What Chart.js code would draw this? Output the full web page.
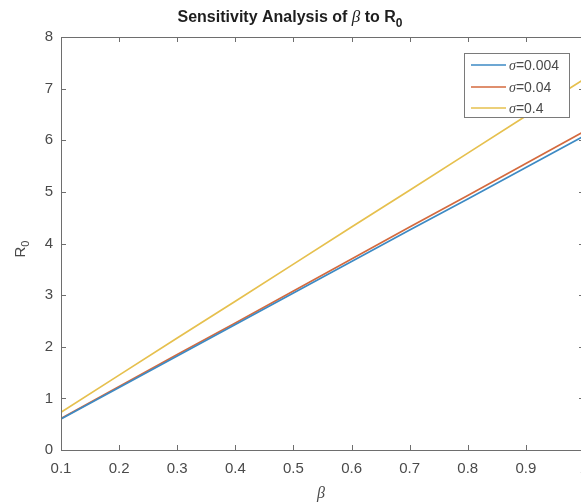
<!DOCTYPE html>
<html><head><meta charset="utf-8">
<script src="https://cdn.jsdelivr.net/npm/chart.js@4/dist/chart.umd.min.js"></script>
<style>
html,body{margin:0;padding:0;background:#fff;overflow:hidden;width:581px;height:503px}
#wrap{position:absolute;left:0;top:0;width:600px;height:503px}
</style>
</head><body><div id="wrap"><canvas id="c"></canvas></div>
<script>
// ---- data ----
const betaValues = [0.1, 0.2, 0.3, 0.4, 0.5, 0.6, 0.7, 0.8, 0.9, 1.0];
const sigmaLabels = ['0.004', '0.04', '0.4'];
const r0Sigma0004 = [0.60, 1.21, 1.82, 2.43, 3.04, 3.65, 4.26, 4.86, 5.47, 6.08];
const r0Sigma004  = [0.61, 1.23, 1.85, 2.46, 3.08, 3.70, 4.32, 4.93, 5.55, 6.17];
const r0Sigma04   = [0.73, 1.45, 2.17, 2.88, 3.60, 4.32, 5.03, 5.75, 6.47, 7.18];
const xTickValues = [0.1, 0.2, 0.3, 0.4, 0.5, 0.6, 0.7, 0.8, 0.9, 1.0];
const yTickValues = [0, 1, 2, 3, 4, 5, 6, 7, 8];
const chartTitle = ['Sensitivity Analysis of ', 'β', ' to R', '0'];
const xAxisLabel = 'β';
const yAxisLabel = ['R', '0'];

const colors = ['#3d8ac4', '#d46a3e', '#e6c04e'];
const SANS = "'Liberation Sans', Arial, sans-serif";
const SERIF = "'Liberation Serif', 'Times New Roman', serif";
const AXIS_COLOR = '#6e6e6e';
const TEXT_COLOR = '#4a4a4a';

const seriesValues = [r0Sigma0004, r0Sigma004, r0Sigma04];
const datasets = seriesValues.map((vals, i) => ({
  label: 'σ=' + sigmaLabels[i],
  data: betaValues.map((b, j) => ({x: b, y: vals[j]})),
  borderColor: colors[i],
  backgroundColor: colors[i],
  borderWidth: 1.7,
  pointRadius: 0,
  tension: 0,
  fill: false
}));

const decorPlugin = {
  id: 'decor',
  beforeDraw(chart) {
    const ctx = chart.ctx;
    ctx.save();
    ctx.fillStyle = '#fff';
    ctx.fillRect(0, 0, chart.width, chart.height);
    ctx.restore();
  },
  afterDatasetsDraw(chart) {
    const ctx = chart.ctx;
    const a = chart.chartArea;
    const xs = chart.scales.x, ys = chart.scales.y;
    ctx.save();
    // box
    ctx.strokeStyle = AXIS_COLOR;
    ctx.lineWidth = 1;
    ctx.strokeRect(Math.round(a.left) + 0.5, Math.round(a.top) + 0.5,
                   Math.round(a.right - a.left), Math.round(a.bottom - a.top));
    // inward ticks
    const tl = 5;
    ctx.beginPath();
    xTickValues.forEach(v => {
      const px = Math.round(xs.getPixelForValue(v)) + 0.5;
      ctx.moveTo(px, a.bottom); ctx.lineTo(px, a.bottom - tl);
      ctx.moveTo(px, a.top); ctx.lineTo(px, a.top + tl);
    });
    yTickValues.forEach(v => {
      const py = Math.round(ys.getPixelForValue(v)) + 0.5;
      ctx.moveTo(a.left, py); ctx.lineTo(a.left + tl, py);
      ctx.moveTo(a.right, py); ctx.lineTo(a.right - tl, py);
    });
    ctx.stroke();

    // legend
    const lx = 464, ly = 53, lw = 105, lh = 64;
    ctx.fillStyle = '#fff';
    ctx.fillRect(lx, ly, lw, lh);
    ctx.strokeStyle = '#7a7a7a';
    ctx.strokeRect(lx + 0.5, ly + 0.5, lw, lh);
    const rows = [65, 87, 108];
    chart.data.datasets.forEach((ds, i) => {
      const y = rows[i];
      ctx.strokeStyle = ds.borderColor;
      ctx.lineWidth = 1.7;
      ctx.beginPath();
      ctx.moveTo(471, y); ctx.lineTo(506, y);
      ctx.stroke();
      ctx.fillStyle = TEXT_COLOR;
      ctx.textBaseline = 'middle';
      ctx.textAlign = 'left';
      ctx.font = 'italic 14px ' + SERIF;
      ctx.fillText('σ', 509, y + 1);
      const w = ctx.measureText('σ').width;
      ctx.font = '14px ' + SANS;
      ctx.fillText(ds.label.slice(1), 509 + w, y + 1);
    });

    // title
    ctx.fillStyle = '#1e1e1e';
    ctx.textBaseline = 'alphabetic';
    ctx.textAlign = 'left';
    const parts = [
      {t: chartTitle[0], f: 'bold 16px ' + SANS, dy: 0},
      {t: chartTitle[1], f: 'italic 17px ' + SERIF, dy: 0},
      {t: chartTitle[2], f: 'bold 16px ' + SANS, dy: 0},
      {t: chartTitle[3], f: 'bold 12px ' + SANS, dy: 5}
    ];
    let total = 0;
    parts.forEach(p => { ctx.font = p.f; p.w = ctx.measureText(p.t).width; total += p.w; });
    let x = 290 - total / 2;
    parts.forEach(p => { ctx.font = p.f; ctx.fillText(p.t, x, 22 + p.dy); x += p.w; });

    // x label
    ctx.fillStyle = TEXT_COLOR;
    ctx.textAlign = 'center';
    ctx.font = 'italic 16px ' + SERIF;
    ctx.fillText(xAxisLabel, 321, 498);

    // y label
    ctx.translate(25, 249);
    ctx.rotate(-Math.PI / 2);
    ctx.font = '15px ' + SANS;
    const rw = ctx.measureText(yAxisLabel[0]).width;
    ctx.font = '11px ' + SANS;
    const sw = ctx.measureText(yAxisLabel[1]).width;
    ctx.textAlign = 'left';
    ctx.font = '15px ' + SANS;
    ctx.fillText(yAxisLabel[0], -(rw + sw) / 2, 0);
    ctx.font = '11px ' + SANS;
    ctx.fillText(yAxisLabel[1], -(rw + sw) / 2 + rw, 4);
    ctx.restore();
  }
};

new Chart(document.getElementById('c'), {
  type: 'line',
  data: {datasets},
  options: {
    responsive: true,
    maintainAspectRatio: false,
    animation: false,
    layout: {padding: {left: 0, right: 16, top: 37, bottom: 0}},
    plugins: {legend: {display: false}, title: {display: false}, tooltip: {enabled: false}},
    scales: {
      x: {
        type: 'linear', min: 0.1, max: 1.0,
        afterBuildTicks: s => { s.ticks = xTickValues.map(v => ({value: v})); },
        afterFit: s => { s.height = 53; },
        grid: {display: false, drawTicks: false},
        border: {display: false},
        ticks: {
          padding: 10, color: TEXT_COLOR, font: {family: SANS, size: 15},
          maxRotation: 0, autoSkip: false,
          callback: v => String(Number(v.toFixed(1)))
        }
      },
      y: {
        type: 'linear', min: 0, max: 8,
        afterBuildTicks: s => { s.ticks = yTickValues.map(v => ({value: v})); },
        afterFit: s => { s.width = 61; },
        grid: {display: false, drawTicks: false},
        border: {display: false},
        ticks: {padding: 8, color: TEXT_COLOR, font: {family: SANS, size: 15}, autoSkip: false}
      }
    }
  },
  plugins: [decorPlugin]
});
</script>
</body></html>
